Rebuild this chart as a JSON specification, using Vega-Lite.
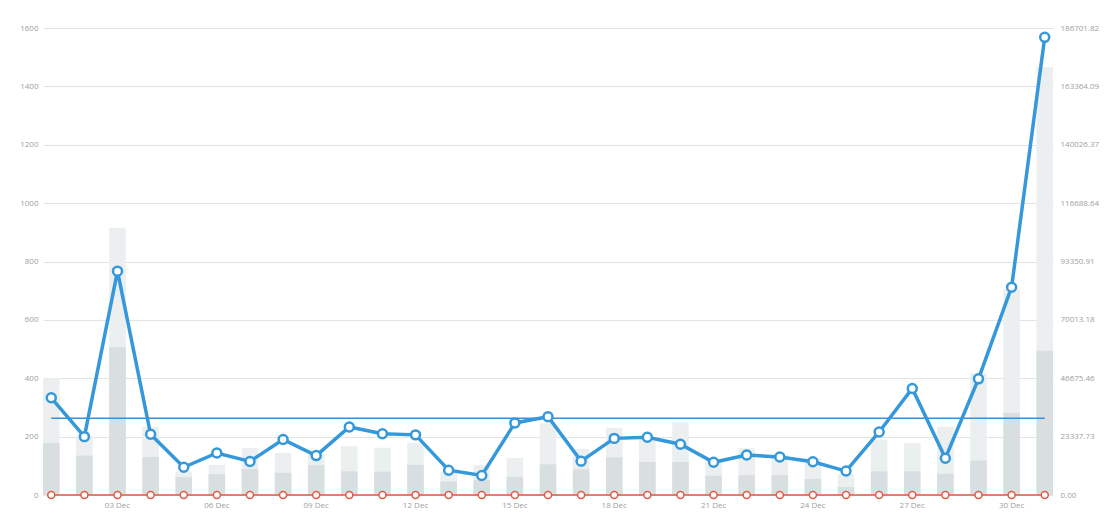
{
  "$schema": "https://vega.github.io/schema/vega-lite/v6.json",
  "width": 1010,
  "height": 467,
  "autosize": {"type": "none"},
  "padding": {"left": 43, "top": 28, "right": 52, "bottom": 24},
  "background": "white",
  "config": {
    "view": {"stroke": null},
    "axis": {"labelFont": "Open Sans", "labelFontSize": 8, "labelColor": "#a0a0a0", "domain": false, "ticks": false, "title": null, "gridColor": "#e3e3e3", "gridWidth": 1}
  },
  "data": {"values": [
    {"d": "01 Dec", "total": 400, "part": 178, "line": 333, "zero": 0},
    {"d": "02 Dec", "total": 205, "part": 135, "line": 200, "zero": 0},
    {"d": "03 Dec", "total": 916, "part": 506, "line": 767, "zero": 0},
    {"d": "04 Dec", "total": 234, "part": 130, "line": 208, "zero": 0},
    {"d": "05 Dec", "total": 80, "part": 61, "line": 95, "zero": 0},
    {"d": "06 Dec", "total": 103, "part": 71, "line": 144, "zero": 0},
    {"d": "07 Dec", "total": 161, "part": 89, "line": 115, "zero": 0},
    {"d": "08 Dec", "total": 144, "part": 76, "line": 190, "zero": 0},
    {"d": "09 Dec", "total": 140, "part": 102, "line": 135, "zero": 0},
    {"d": "10 Dec", "total": 167, "part": 81, "line": 233, "zero": 0},
    {"d": "11 Dec", "total": 162, "part": 80, "line": 210, "zero": 0},
    {"d": "12 Dec", "total": 179, "part": 103, "line": 206, "zero": 0},
    {"d": "13 Dec", "total": 80, "part": 46, "line": 85, "zero": 0},
    {"d": "14 Dec", "total": 102, "part": 51, "line": 67, "zero": 0},
    {"d": "15 Dec", "total": 127, "part": 62, "line": 247, "zero": 0},
    {"d": "16 Dec", "total": 246, "part": 105, "line": 268, "zero": 0},
    {"d": "17 Dec", "total": 157, "part": 88, "line": 116, "zero": 0},
    {"d": "18 Dec", "total": 230, "part": 129, "line": 194, "zero": 0},
    {"d": "19 Dec", "total": 195, "part": 113, "line": 198, "zero": 0},
    {"d": "20 Dec", "total": 248, "part": 113, "line": 174, "zero": 0},
    {"d": "21 Dec", "total": 120, "part": 66, "line": 112, "zero": 0},
    {"d": "22 Dec", "total": 160, "part": 68, "line": 137, "zero": 0},
    {"d": "23 Dec", "total": 137, "part": 68, "line": 130, "zero": 0},
    {"d": "24 Dec", "total": 126, "part": 55, "line": 114, "zero": 0},
    {"d": "25 Dec", "total": 72, "part": 27, "line": 82, "zero": 0},
    {"d": "26 Dec", "total": 190, "part": 81, "line": 216, "zero": 0},
    {"d": "27 Dec", "total": 177, "part": 81, "line": 365, "zero": 0},
    {"d": "28 Dec", "total": 234, "part": 73, "line": 126, "zero": 0},
    {"d": "29 Dec", "total": 417, "part": 118, "line": 398, "zero": 0},
    {"d": "30 Dec", "total": 705, "part": 282, "line": 712, "zero": 0},
    {"d": "31 Dec", "total": 1466, "part": 494, "line": 1568, "zero": 0}
  ]},
  "encoding": {
    "x": {
      "field": "d", "type": "ordinal", "sort": null,
      "scale": {"type": "band", "paddingInner": 0.5, "paddingOuter": 0},
      "axis": {"values": ["03 Dec", "06 Dec", "09 Dec", "12 Dec", "15 Dec", "18 Dec", "21 Dec", "24 Dec", "27 Dec", "30 Dec"], "labelAngle": 0, "labelPadding": 6, "grid": false}
    }
  },
  "layer": [
    {
      "encoding": {
        "y": {"type": "quantitative", "scale": {"domain": [0, 1600], "nice": false},
          "axis": {"values": [0, 200, 400, 600, 800, 1000, 1200, 1400, 1600], "format": "d", "grid": true, "labelPadding": 5, "orient": "left"}}
      },
      "layer": [
        {"mark": {"type": "bar", "color": "#ebeff0"}, "encoding": {"y": {"field": "total", "type": "quantitative"}}},
        {"mark": {"type": "bar", "color": "#d9dee0"}, "encoding": {"y": {"field": "part", "type": "quantitative"}}},
        {
          "transform": [{"joinaggregate": [{"op": "mean", "field": "line", "as": "avg"}]}],
          "mark": {"type": "line", "color": "#3a8fd9", "strokeWidth": 1.5},
          "encoding": {"y": {"field": "avg", "type": "quantitative"}}
        },
        {"mark": {"type": "line", "color": "#3498db", "strokeWidth": 3.5}, "encoding": {"y": {"field": "line", "type": "quantitative"}}},
        {"mark": {"type": "point", "shape": "circle", "filled": true, "fill": "white", "stroke": "#3498db", "strokeWidth": 2.5, "size": 80, "opacity": 1}, "encoding": {"y": {"field": "line", "type": "quantitative"}}}
      ]
    },
    {
      "encoding": {
        "y": {"type": "quantitative", "scale": {"domain": [0, 186701.82], "nice": false},
          "axis": {"orient": "right", "values": [0, 23337.73, 46675.46, 70013.18, 93350.91, 116688.64, 140026.37, 163364.09, 186701.82], "format": ".2f", "grid": false, "labelPadding": 7}}
      },
      "layer": [
        {"mark": {"type": "line", "color": "#e05a44", "strokeWidth": 1.5}, "encoding": {"y": {"field": "zero", "type": "quantitative"}}},
        {"mark": {"type": "point", "shape": "circle", "filled": true, "fill": "white", "stroke": "#e05a44", "strokeWidth": 1.5, "size": 50, "opacity": 1}, "encoding": {"y": {"field": "zero", "type": "quantitative"}}}
      ]
    }
  ],
  "resolve": {"scale": {"y": "independent"}}
}
